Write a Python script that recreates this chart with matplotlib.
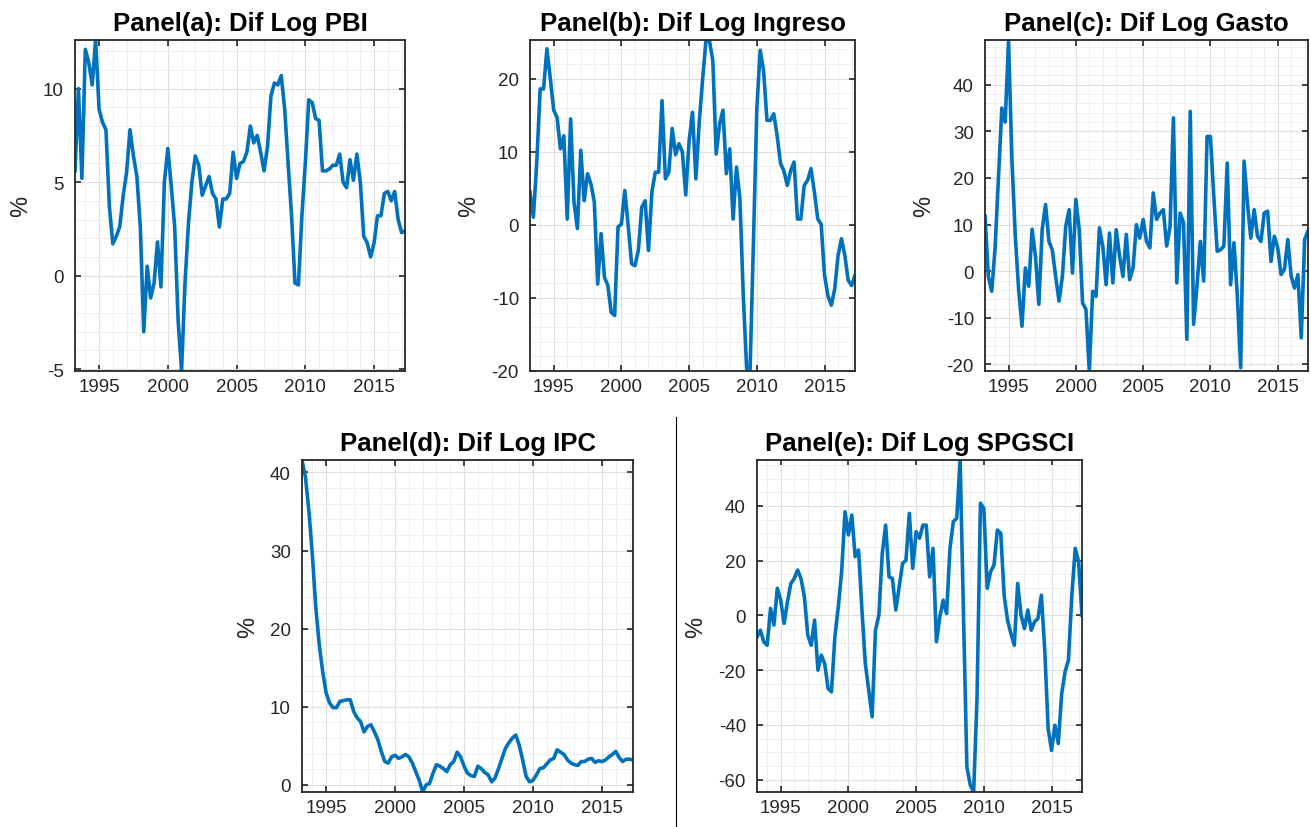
import numpy as np
import matplotlib
matplotlib.use("Agg")
import matplotlib.pyplot as plt
from matplotlib.ticker import MultipleLocator
from matplotlib.lines import Line2D

plt.rcParams['font.family'] = ['Liberation Sans', 'DejaVu Sans']
plt.rcParams['axes.unicode_minus'] = False

# quarterly sample, 1993Q2 - 2017Q2
start_year = 1993.25
n_obs = 97
years = start_year + 0.25 * np.arange(n_obs)

pbi = [5.6, 10.0, 5.2, 12.1, 11.4, 10.2, 12.6, 8.9, 8.2, 7.8,
       3.7, 1.7, 2.1, 2.6, 4.25, 5.5, 7.8, 6.4, 5.3, 2.6,
       -3.0, 0.5, -1.2, -0.4, 1.8, -0.6, 5.0, 6.8, 4.8, 2.6,
       -2.4, -5.1, -0.4, 2.8, 5.0, 6.4, 5.9, 4.3, 4.8, 5.3,
       4.4, 4.1, 2.6, 4.1, 4.1, 4.4, 6.6, 5.2, 6.0, 6.1,
       6.6, 8.0, 7.1, 7.5, 6.6, 5.6, 6.9, 9.6, 10.3, 10.2,
       10.7, 8.9, 6.0, 3.2, -0.4, -0.5, 3.2, 6.0, 9.4, 9.25,
       8.4, 8.3, 5.6, 5.6, 5.7, 5.9, 5.9, 6.5, 5.0, 4.7,
       6.2, 5.1, 6.5, 5.0, 2.1, 1.75, 1.0, 1.75, 3.2, 3.2,
       4.4, 4.5, 4.0, 4.5, 3.0, 2.3, 2.4]

ingreso = [4.5, 1.05, 8.6, 18.6, 18.6, 24.1, 20.0, 15.7, 14.7, 10.4,
           12.2, 0.8, 14.5, 3.1, -0.5, 10.2, 3.3, 7.0, 5.6, 3.1,
           -8.1, -1.2, -7.2, -8.3, -12.0, -12.4, -0.3, 0.1, 4.7, -0.1,
           -5.3, -5.6, -3.5, 2.4, 3.3, -3.5, 4.5, 7.2, 7.2, 17.0,
           6.3, 7.2, 13.2, 9.6, 11.1, 10.0, 4.1, 11.5, 15.4, 6.3,
           14.1, 20.0, 25.3, 25.2, 22.5, 9.7, 13.8, 15.7, 7.0, 10.4,
           0.8, 7.9, 3.6, -9.7, -19.7, -20.0, -2.4, 15.9, 23.9, 21.1,
           14.3, 14.3, 15.2, 12.2, 8.4, 7.4, 5.4, 7.4, 8.6, 0.8,
           0.8, 5.4, 6.1, 7.7, 4.5, 0.8, 0.1, -6.9, -9.7, -11.0,
           -8.8, -4.2, -1.9, -4.2, -7.6, -8.3, -6.9]

gasto = [11.8, -1.1, -4.3, 5.0, 20.0, 35.0, 32.0, 49.6, 24.0, 7.5,
         -4.0, -11.8, 0.7, -3.2, 9.0, 3.2, -7.1, 9.0, 14.3, 6.4,
         4.6, -1.1, -6.4, -1.1, 9.6, 13.2, -0.4, 15.4, 9.0, -6.8,
         -8.2, -21.4, -4.3, -5.4, 9.3, 5.4, -2.9, 8.2, -2.5, 8.9,
         3.2, -1.1, 7.9, -1.8, 0.7, 10.0, 7.1, 11.1, 6.4, 5.0,
         16.8, 11.1, 12.5, 13.2, 5.4, 9.6, 32.9, -2.5, 12.5, 10.4,
         -14.6, 34.3, -11.4, -3.2, 6.4, -2.1, 28.9, 28.9, 16.1, 4.3,
         4.6, 5.4, 23.2, -2.9, 6.1, -5.4, -20.7, 23.6, 14.6, 7.1,
         13.2, 7.5, 6.4, 12.5, 12.9, 2.1, 7.5, 5.0, -0.7, 0.4,
         6.8, -1.1, -3.6, -0.7, -14.3, 6.8, 8.6]

ipc = [41.6, 39.4, 35.1, 29.5, 22.7, 18.0, 14.5, 11.8, 10.5, 9.9,
       9.9, 10.7, 10.8, 10.9, 10.9, 9.4, 8.6, 8.1, 6.8, 7.5,
       7.7, 6.8, 5.8, 4.3, 3.0, 2.8, 3.6, 3.8, 3.4, 3.6,
       3.9, 3.6, 2.8, 1.7, 0.6, -0.9, 0.0, 0.2, 1.5, 2.6,
       2.4, 2.1, 1.7, 2.6, 3.0, 4.2, 3.6, 2.4, 1.5, 1.2,
       1.1, 2.4, 2.1, 1.6, 1.3, 0.4, 0.9, 2.1, 3.4, 4.7,
       5.4, 6.0, 6.4, 5.1, 3.2, 1.1, 0.4, 0.6, 1.3, 2.1,
       2.2, 2.7, 3.2, 3.4, 4.5, 4.2, 3.9, 3.2, 2.8, 2.6,
       2.5, 3.0, 3.0, 3.3, 3.4, 2.9, 3.1, 3.0, 3.2, 3.6,
       3.9, 4.3, 3.5, 3.0, 3.3, 3.3, 3.2]

spgsci = [-7.8, -5.4, -9.6, -10.9, 2.6, -3.5, 9.9, 5.6, -2.9, 5.0,
          11.7, 13.5, 16.6, 13.5, 6.8, -7.2, -10.9, -1.7, -20.0, -14.5,
          -17.6, -26.7, -27.9, -7.8, 3.0, 16.0, 37.9, 29.4, 36.7, 21.5,
          23.9, 2.0, -17.6, -27.3, -37.0, -5.4, 0.1, 22.7, 33.0, 14.1,
          13.5, 2.0, 10.5, 19.0, 20.2, 37.3, 17.2, 30.6, 28.2, 33.0,
          33.0, 14.1, 24.5, -9.6, -0.5, 5.6, 0.7, 24.5, 34.3, 35.5,
          56.8, 0.0, -55.4, -62.0, -64.5, -29.8, 41.0, 39.1, 9.9, 16.0,
          18.4, 31.2, 30.0, 7.4, -1.7, -6.6, -10.9, 11.7, 0.1, -4.8,
          2.0, -5.4, -2.3, -1.1, 7.4, -12.7, -41.3, -49.3, -40.1, -46.8,
          -28.5, -20.6, -16.3, 7.4, 24.5, 19.6, 0.1]

titles = ['Panel(a): Dif Log PBI', 'Panel(b): Dif Log Ingreso',
          'Panel(c): Dif Log Gasto', 'Panel(d): Dif Log IPC',
          'Panel(e): Dif Log SPGSCI']
series = [pbi, ingreso, gasto, ipc, spgsci]
# (major, minor) y tick steps
ysteps = [(5, 1), (10, 2), (10, 2), (10, 2), (20, 5)]

W, H = 1311, 828
# axes boxes in pixels: left, right, top, bottom
boxes = [(75, 405, 41, 372), (530, 855, 41, 372), (985, 1308, 41, 372),
         (302, 633, 461, 793), (757, 1082, 461, 793)]

fig = plt.figure(figsize=(W / 100, H / 100), dpi=100)
txt = '#262626'

for title, y, (maj, mnr), (l, r, t, b) in zip(titles, series, ysteps, boxes):
    ax = fig.add_axes([l / W, 1 - b / H, (r - l) / W, (b - t) / H])
    ax.plot(years, y, color='#0072BD', lw=2.6, solid_joinstyle='round')
    ax.set_xlim(years[0], years[-1])
    ax.set_ylim(min(y), max(y))
    ax.xaxis.set_major_locator(MultipleLocator(5))
    ax.xaxis.set_minor_locator(MultipleLocator(1))
    ax.yaxis.set_major_locator(MultipleLocator(maj))
    ax.yaxis.set_minor_locator(MultipleLocator(mnr))
    ax.grid(which='major', color='#dedede', lw=0.8)
    ax.grid(which='minor', color='#efefef', lw=0.7)
    ax.set_axisbelow(True)
    ax.tick_params(which='major', direction='in', length=4, width=1.2,
                   top=True, right=True, labelsize=13.5, colors=txt)
    ax.tick_params(axis='y', pad=8)
    ax.tick_params(axis='x', pad=5)
    ax.tick_params(which='minor', length=0)
    for s in ax.spines.values():
        s.set_color(txt)
        s.set_linewidth(1.3)
    ax.set_title(title, fontsize=18.5, fontweight='bold', pad=7, color='black')
    ax.set_ylabel('%', fontsize=17, color=txt, labelpad=8)

# separator between the two bottom panels
fig.add_artist(Line2D([676 / W, 676 / W], [0, 1 - 418 / H], color='black', lw=0.8))

fig.savefig('out.png', dpi=100)
